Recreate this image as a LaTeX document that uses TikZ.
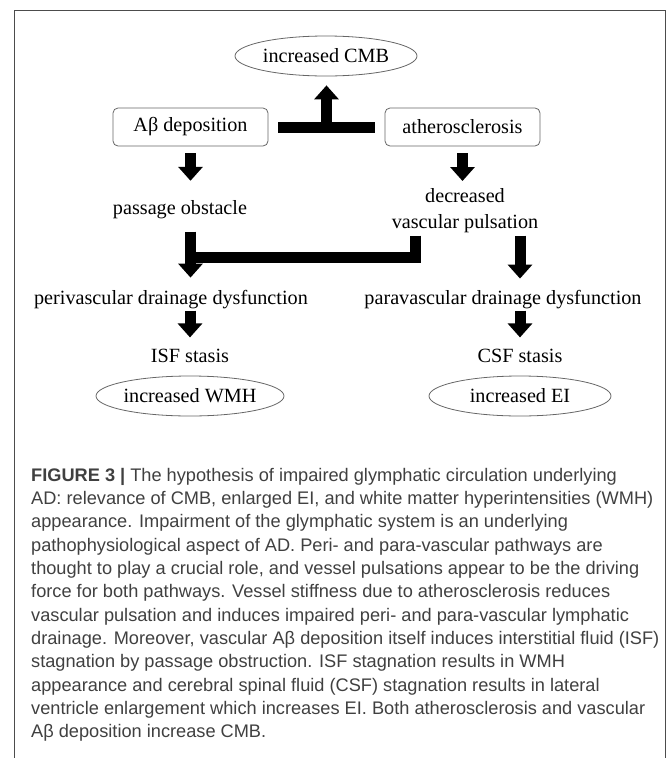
\documentclass[tikz,border=0pt]{standalone}
\usepackage{fontspec}
\setmainfont{Liberation Serif}
\newfontfamily\capfont{Liberation Sans}
\usetikzlibrary{arrows.meta,shapes.geometric}

\tikzset{
  fatline/.style={line width=11pt},
  fatarrow/.style={line width=11pt,-{Triangle[length=14pt,width=24pt]}},
}

\begin{document}
\begin{tikzpicture}[x=1pt,y=-1pt,
    font=\fontsize{20.2}{26}\selectfont,
    box/.style={draw=black!60,line width=0.8pt,rounded corners=5pt,minimum width=155pt,minimum height=38pt},
    oval/.style={draw=black!60,line width=0.8pt,ellipse,minimum width=182pt,minimum height=40pt,inner sep=0pt},
    lbl/.style={inner sep=0pt}]
  \useasboundingbox (0,0) rectangle (668,758);
  % frame, open at the bottom
  \draw[black!70,line width=1pt] (14,758) -- (14,10) -- (665,10) -- (665,758);

  \node[oval] (cmb) at (326,56) {increased CMB};
  \node[box] (abeta) at (190.5,127) {Aβ deposition};
  \node[box] (athero) at (462.5,127) {atherosclerosis};
  \node[lbl,anchor=base] (obst) at (180,214) {passage obstacle};
  \node[lbl,align=center,anchor=north] (pulse) at (465,188) {decreased\\vascular pulsation};
  \node[lbl,anchor=base] (peri) at (171,304) {perivascular drainage dysfunction};
  \node[lbl,anchor=base] (para) at (503,304) {paravascular drainage dysfunction};
  \node[lbl,anchor=base] (isf) at (190,362) {ISF stasis};
  \node[lbl,anchor=base] (csf) at (520,362) {CSF stasis};
  \node[oval] (wmh) at (190,396) {increased WMH};
  \node[oval] (ei) at (520,396) {increased EI};

  % top row
  \draw[fatarrow,shorten <=7pt,shorten >=19pt] (abeta.south) -- (abeta.south |- obst.north);
  \draw[fatarrow,shorten <=7pt,shorten >=7pt] (athero.south) -- (athero.south |- pulse.north);
  \draw[fatline,shorten <=10pt,shorten >=10pt] (abeta.east) -- (athero.west) coordinate[midway] (tjoin);
  \draw[fatarrow,shorten >=9pt] (tjoin) -- (tjoin |- cmb.south);

  % L-shaped bar into the left column
  \coordinate (bend) at (415,257);
  \draw[fatline,line join=miter,shorten <=3pt] (pulse.south -| bend) -- (bend) -- (bend -| abeta.south);
  \draw[fatarrow,shorten <=13pt,shorten >=12pt] (abeta.south |- obst.south) -- (abeta.south |- peri.north);
  \draw[fatarrow,shorten <=3pt,shorten >=11pt] (csf |- pulse.south) -- (csf |- para.north);

  % bottom row
  \draw[fatarrow,shorten <=2pt,shorten >=11pt] (isf |- peri.south) -- (isf.north);
  \draw[fatarrow,shorten <=2pt,shorten >=11pt] (csf |- para.south) -- (csf.north);

  \node[anchor=north west,inner sep=0pt,align=left,text=black!75,
        font=\capfont\fontsize{18.2}{23.3}\selectfont] (caption) at (31,468)
    {{\bfseries FIGURE 3 |} The hypothesis of impaired glymphatic circulation underlying\\
     AD: relevance of CMB, enlarged EI, and white matter hyperintensities (WMH)\\
     appearance. Impairment of the glymphatic system is an underlying\\
     pathophysiological aspect of AD. Peri- and para-vascular pathways are\\
     thought to play a crucial role, and vessel pulsations appear to be the driving\\
     force for both pathways. Vessel stiffness due to atherosclerosis reduces\\
     vascular pulsation and induces impaired peri- and para-vascular lymphatic\\
     drainage. Moreover, vascular Aβ deposition itself induces interstitial fluid (ISF)\\
     stagnation by passage obstruction. ISF stagnation results in WMH\\
     appearance and cerebral spinal fluid (CSF) stagnation results in lateral\\
     ventricle enlargement which increases EI. Both atherosclerosis and vascular\\
     Aβ deposition increase CMB.};
\end{tikzpicture}
\end{document}
